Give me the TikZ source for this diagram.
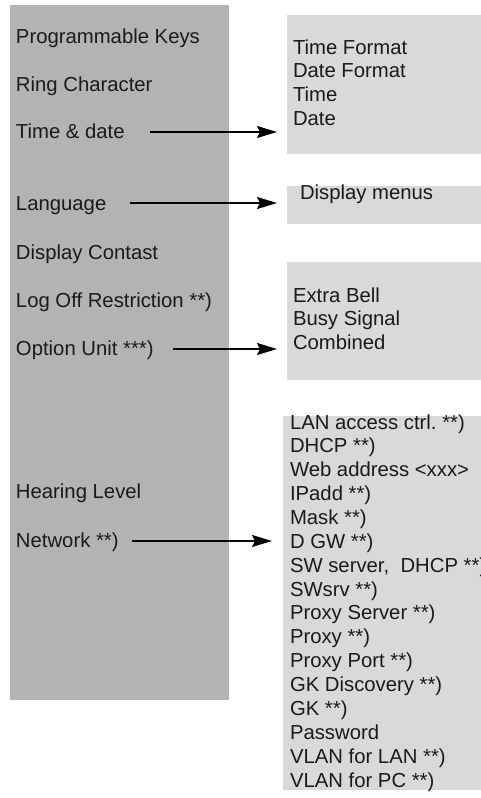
\documentclass[tikz,border=0pt]{standalone}
\usepackage{fontspec}
\setmainfont{Liberation Sans}
\usetikzlibrary{arrows.meta}
\definecolor{darkbox}{HTML}{B3B3B3}
\definecolor{lightbox}{HTML}{D9D9D9}
\definecolor{ink}{HTML}{1A1A1A}
\frenchspacing
\tikzset{
  panel/.style={fill=#1, draw=none, inner sep=0pt, outer sep=0pt, anchor=north west},
  item/.style={anchor=base west, inner sep=0pt, outer sep=0pt, text=ink,
    font=\fontsize{20.3}{24}\selectfont},
  link/.style={line width=1.6pt, draw=black,
    -{Stealth[length=20pt, width=12pt, inset=3pt]}}
}
\begin{document}
\begin{tikzpicture}[x=1pt, y=-1pt]
\useasboundingbox (0,0) rectangle (481,798);
% panels
\node[panel=darkbox, minimum width=219pt, minimum height=695pt] (menu) at (10,5) {};
\node[panel=lightbox, minimum width=210pt, minimum height=139pt] (boxtime) at (287,15) {};
\node[panel=lightbox, minimum width=210pt, minimum height=38pt] (boxlang) at (287,186) {};
\node[panel=lightbox, minimum width=210pt, minimum height=118pt] (boxopt) at (287,262) {};
\node[panel=lightbox, minimum width=210pt, minimum height=374pt] (boxnet) at (283,416) {};
% left menu items
\node[item] (progkeys) at (16,43) {Programmable Keys};
\node[item] (ring) at (16,91) {Ring Character};
\node[item] (timedate) at (16,138) {Time \& date};
\node[item] (language) at (16,210) {Language};
\node[item] (contrast) at (16,259) {Display Contast};
\node[item] (logoff) at (16,307) {Log Off Restriction **)};
\node[item] (option) at (16,355) {Option Unit ***)};
\node[item] (hearing) at (16,498) {Hearing Level};
\node[item] (network) at (16,547) {Network **)};
% time box
\foreach \t [count=\i from 0] in {Time Format, Date Format, Time, Date}
  \node[item] (tline\i) at (293,54+23.9*\i) {\t};
% language box
\node[item] (dispmenus) at (300,199) {Display menus};
% option box
\foreach \t [count=\i from 0] in {Extra Bell, Busy Signal, Combined}
  \node[item] (oline\i) at (293,302+23.9*\i) {\t};
% network box
\foreach \t [count=\i from 0] in {LAN access ctrl. **), DHCP **), Web address <xxx>, IPadd **), Mask **), D GW **), {SW server,\ \ DHCP **)}, SWsrv **), Proxy Server **), Proxy **), Proxy Port **), GK Discovery **), GK **), Password, VLAN for LAN **), VLAN for PC **)}
  \node[item] (nline\i) at (290,429+23.87*\i) {\t};
% arrows
\coordinate (a1s) at (150,132);
\coordinate (a1e) at (277,132);
\coordinate (a2s) at (130,203);
\coordinate (a2e) at (277,203);
\coordinate (a3s) at (173,349);
\coordinate (a3e) at (277,349);
\coordinate (a4s) at (132,541);
\coordinate (a4e) at (272,541);
\draw[link] (a1s) -- (a1e);
\draw[link] (a2s) -- (a2e);
\draw[link] (a3s) -- (a3e);
\draw[link] (a4s) -- (a4e);
\end{tikzpicture}
\end{document}
